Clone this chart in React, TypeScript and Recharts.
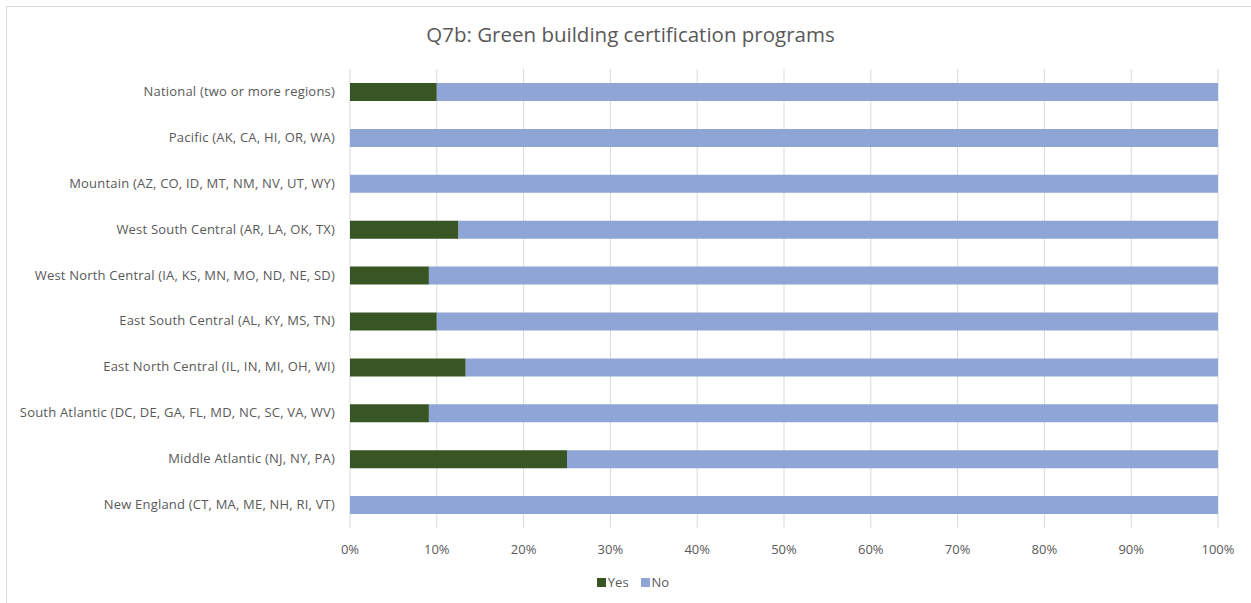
import React from 'react'
import { Bar, BarChart, CartesianGrid, Legend, XAxis, YAxis } from 'recharts'

// Regions, top to bottom as drawn
const regions = [
  'National (two or more regions)',
  'Pacific (AK, CA, HI, OR, WA)',
  'Mountain (AZ, CO, ID, MT, NM, NV, UT, WY)',
  'West South Central (AR, LA, OK, TX)',
  'West North Central (IA, KS, MN, MO, ND, NE, SD)',
  'East South Central (AL, KY, MS, TN)',
  'East North Central (IL, IN, MI, OH, WI)',
  'South Atlantic (DC, DE, GA, FL, MD, NC, SC, VA, WV)',
  'Middle Atlantic (NJ, NY, PA)',
  'New England (CT, MA, ME, NH, RI, VT)',
]

// share answering Yes / No, in percent
const yesValues = [10, 0, 0, 12.5, 9.09, 10, 13.33, 9.09, 25, 0]
const noValues = [90, 100, 100, 87.5, 90.91, 90, 86.67, 90.91, 75, 100]

const xTicks = [0, 10, 20, 30, 40, 50, 60, 70, 80, 90, 100]

const data = regions.map((name, i) => ({ name, Yes: yesValues[i], No: noValues[i] }))

const FONT = '"Open Sans", "Noto Sans", sans-serif'
const TEXT = '#595959'
const YES_COLOR = '#375623'
const NO_COLOR = '#8EA5D6'

// plain text tick so long labels never wrap
const RegionTick = ({ x, y, payload }: any) => (
  <text x={x} y={y} dy={4} textAnchor="end" fontSize={13} letterSpacing={0.2} fill={TEXT} fontFamily={FONT}>
    {payload.value}
  </text>
)

const LegendContent = () => (
  <div style={{ display: 'flex', justifyContent: 'center', gap: 12, fontSize: 13, color: TEXT, fontFamily: FONT }}>
    {[
      { label: 'Yes', color: YES_COLOR },
      { label: 'No', color: NO_COLOR },
    ].map((item) => (
      <span key={item.label} style={{ display: 'flex', alignItems: 'center' }}>
        <span style={{ width: 9, height: 9, background: item.color, display: 'inline-block', marginRight: 2 }} />
        {item.label}
      </span>
    ))}
  </div>
)

export default function App() {
  return (
    <div style={{ position: 'absolute', left: 0, top: 0, width: 1251, height: 603, background: '#fff', fontFamily: FONT }}>
      <div
        style={{
          position: 'absolute',
          left: 6,
          top: 6,
          width: 1260,
          height: 620,
          border: '1px solid #d9d9d9',
          boxSizing: 'border-box',
        }}
      />
      <div
        style={{
          position: 'absolute',
          left: 0,
          top: 20,
          width: 1261,
          textAlign: 'center',
          fontSize: 20.5,
          color: TEXT,
        }}
      >
        Q7b: Green building certification programs
      </div>
      <div style={{ position: 'absolute', left: 0, top: 0 }}>
        <BarChart
          width={1251}
          height={603}
          data={data}
          layout="vertical"
          margin={{ top: 69, right: 33, left: 0, bottom: 0 }}
        >
          <CartesianGrid horizontal={false} stroke="#d9d9d9" />
          <XAxis
            type="number"
            domain={[0, 100]}
            ticks={xTicks}
            tickFormatter={(v) => `${v}%`}
            axisLine={false}
            tickLine={false}
            tickMargin={11}
            height={57}
            tick={{ fontSize: 13, fill: TEXT, fontFamily: FONT }}
          />
          <YAxis
            type="category"
            dataKey="name"
            width={350}
            axisLine={false}
            tickLine={false}
            tickSize={0}
            tickMargin={15}
            tick={<RegionTick />}
          />
          <Legend verticalAlign="bottom" content={<LegendContent />} wrapperStyle={{ top: 573, left: 0, width: 1266 }} />
          <Bar dataKey="Yes" stackId="a" fill={YES_COLOR} barSize={18} isAnimationActive={false} />
          <Bar dataKey="No" stackId="a" fill={NO_COLOR} barSize={18} isAnimationActive={false} />
        </BarChart>
      </div>
    </div>
  )
}
